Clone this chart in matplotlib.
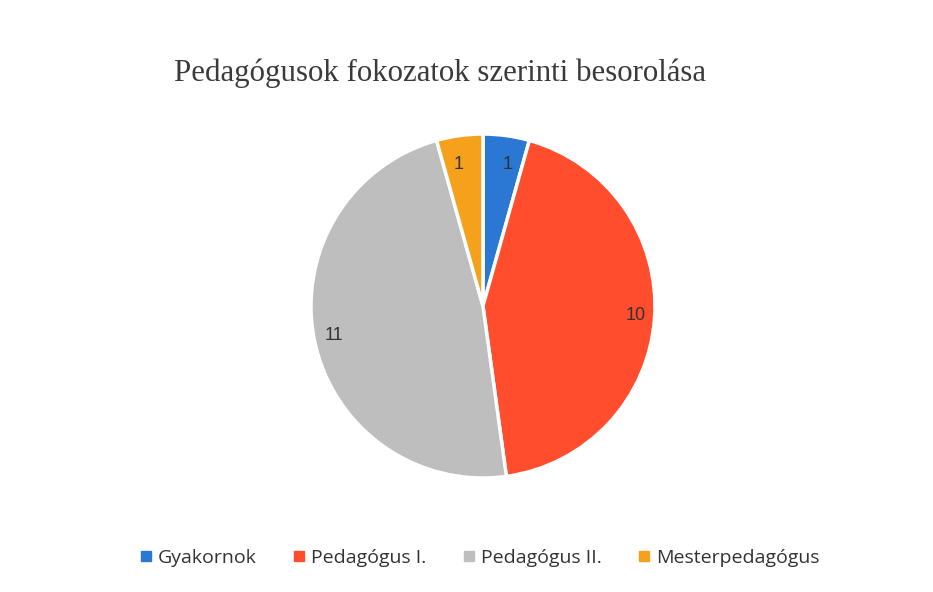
import matplotlib
matplotlib.use("Agg")
import matplotlib.pyplot as plt
from matplotlib.lines import Line2D

# data
categories = ["Gyakornok", "Pedagógus I.", "Pedagógus II.", "Mesterpedagógus"]
counts     = [1, 10, 11, 1]
colors     = ["#2A78D4", "#FF4D2E", "#BEBEBE", "#F5A11C"]

fig = plt.figure(figsize=(9.33, 5.92), dpi=100)
ax = fig.add_axes([0.3333, 0.1926, 0.3687, 0.581])

wedges, texts = ax.pie(counts, colors=colors, startangle=90, counterclock=False,
                       labels=[str(c) for c in counts], labeldistance=0.83,
                       wedgeprops=dict(edgecolor="white", linewidth=2.5),
                       textprops=dict(fontsize=13, color="#333333",
                                      family="Liberation Sans"))
ax.set_xlim(-1.0, 1.0)
ax.set_ylim(-1.0, 1.0)
ax.set_aspect("equal")

fig.text(0.472, 0.877, "Pedagógusok fokozatok szerinti besorolása",
         ha="center", va="center", fontsize=22.2, color="#3a3a3a",
         family="Liberation Serif")

handles = [Line2D([], [], marker="s", linestyle="", markersize=7,
                  markerfacecolor=c, markeredgecolor=c) for c in colors]
fig.legend(handles, categories, loc="center", ncol=4,
           bbox_to_anchor=(0.513, 0.058), frameon=False,
           prop=dict(family="Open Sans", size=14), labelcolor="#333333",
           handletextpad=0.2, columnspacing=1.8, handlelength=0.8)

fig.savefig("out.png", dpi=100)
